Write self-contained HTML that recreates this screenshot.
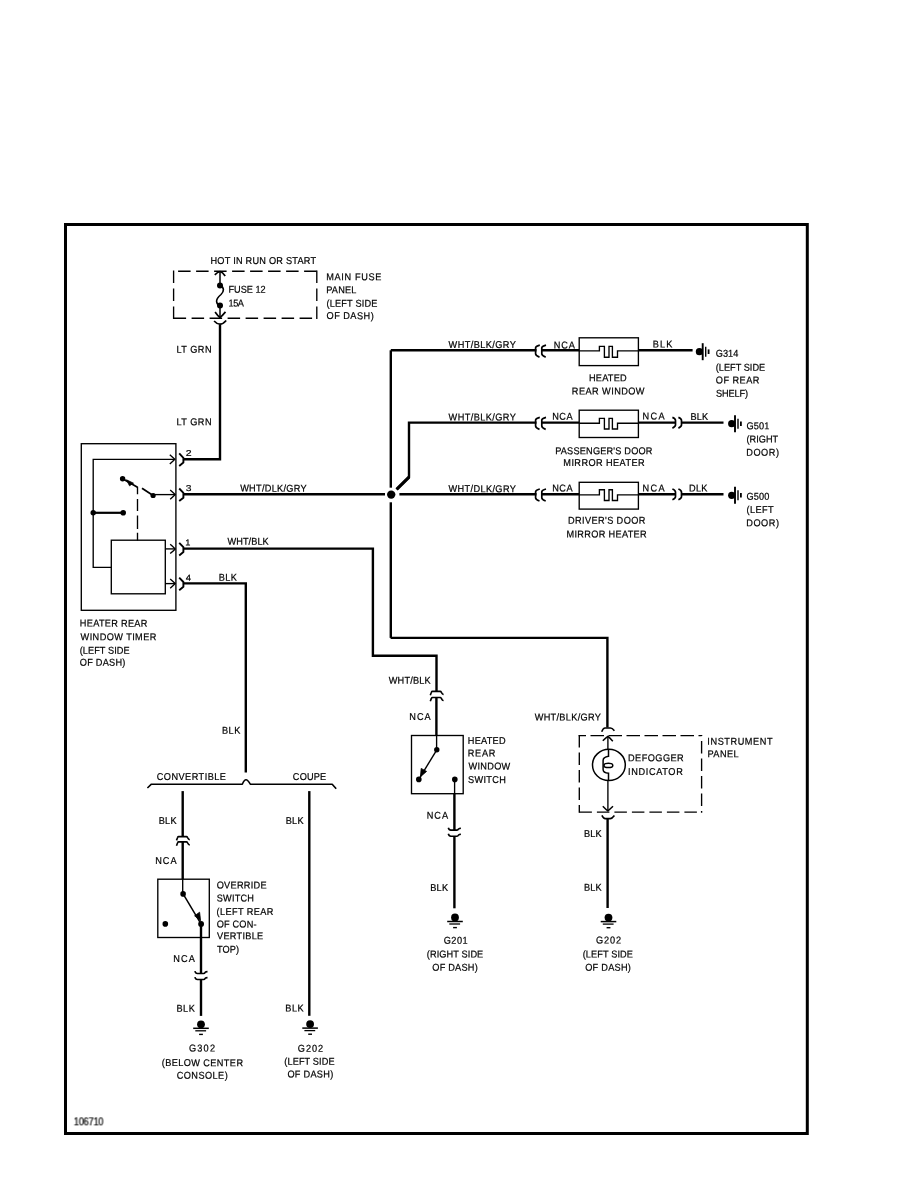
<!DOCTYPE html>
<html><head><meta charset="utf-8"><style>
html,body{margin:0;padding:0;background:#fff;}
body{width:918px;height:1188px;overflow:hidden;font-family:"Liberation Sans",sans-serif;}
svg{display:block;}
</style></head><body><svg width="918" height="1188" viewBox="0 0 918 1188"><g stroke="#000" stroke-linecap="butt" fill="none"><rect x="65.5" y="224.5" width="741.8" height="909.0" stroke-width="3.0" fill="none" /><line x1="173.6" y1="271.2" x2="316.8" y2="271.2" stroke-width="1.35" stroke-dasharray="12.5 5.5" stroke-dashoffset="-4.5"/><line x1="173.6" y1="318.2" x2="316.8" y2="318.2" stroke-width="1.35" stroke-dasharray="12.5 5.5"/><line x1="173.6" y1="270.5" x2="173.6" y2="318.9" stroke-width="1.35" stroke-dasharray="12.5 5.5"/><line x1="316.8" y1="270.5" x2="316.8" y2="318.9" stroke-width="1.35" stroke-dasharray="12.5 5.5"/><path d="M214.8,274.8 Q217.5,272 220.0,271.5 Q222.5,272.2 225.2,275.9" stroke-width="1.7" fill="none" /><line x1="220.0" y1="271.5" x2="220.0" y2="285" stroke-width="1.5" /><circle cx="220.0" cy="285.4" r="3.0" fill="#000" stroke="none"/><path d="M220.0,285.4 C224.5,287 224.2,291.5 221,294.5 C218,297 216.3,298.5 216.6,301.5 C216.8,304 218.5,305.3 220.0,305.6" stroke-width="1.6" fill="none" /><circle cx="220.0" cy="305.6" r="3.0" fill="#000" stroke="none"/><line x1="220.0" y1="306" x2="220.0" y2="317.5" stroke-width="1.5" /><path d="M215.1,311.9 Q218,316 220.0,317.7 Q222,316 225.5,311.9" stroke-width="1.7" fill="none" /><path d="M214.1,321 Q217,324.2 220.0,324.2 Q223,324.2 226.2,320.5" stroke-width="1.7" fill="none" /><path d="M220.0,324.6 V459.2 H183.5" stroke-width="2.4" fill="none" /><rect x="81.3" y="443.7" width="94.6" height="166.6" stroke-width="1.35" fill="none" /><path d="M174.6,459.3 H93.2 V567.3 H111.3" stroke-width="1.35" fill="none" /><path d="M169.8,454.7 Q173.3,457.8 174.8,459.3 Q173.3,460.8 169.8,463.90000000000003" stroke-width="1.35" fill="none" /><circle cx="93.2" cy="512.8" r="2.7" fill="#000" stroke="none"/><line x1="93.2" y1="512.8" x2="123.2" y2="512.8" stroke-width="2.2" /><circle cx="123.2" cy="512.8" r="2.8" fill="#000" stroke="none"/><circle cx="122.6" cy="478.8" r="2.7" fill="#000" stroke="none"/><line x1="122.6" y1="478.8" x2="137.5" y2="487.2" stroke-width="1.8" /><line x1="142" y1="488.3" x2="153.1" y2="495.5" stroke-width="1.8" /><path d="M126.5,479.8 L133.5,483.2 L129.5,485.8 Z" stroke-width="0.8" fill="#000" /><circle cx="153.1" cy="495.5" r="2.6" fill="#000" stroke="none"/><line x1="153.1" y1="494.6" x2="175" y2="494.6" stroke-width="1.35" /><path d="M170.2,490.0 Q173.7,493.1 175.2,494.6 Q173.7,496.1 170.2,499.20000000000005" stroke-width="1.35" fill="none" /><path d="M137.5,486.8 V494.2 M137.5,498.9 V510.9 M137.5,515.6 V529 M137.5,532.8 V540.4" stroke-width="1.35" fill="none" /><rect x="111.3" y="540.2" width="54.0" height="53.6" stroke-width="1.35" fill="none" /><line x1="165.3" y1="548.9" x2="175" y2="548.9" stroke-width="1.35" /><path d="M170.2,544.3 Q173.7,547.4 175.2,548.9 Q173.7,550.4 170.2,553.5" stroke-width="1.35" fill="none" /><line x1="165.3" y1="583.6" x2="175" y2="583.6" stroke-width="1.35" /><path d="M170.2,579.0 Q173.7,582.1 175.2,583.6 Q173.7,585.1 170.2,588.2" stroke-width="1.35" fill="none" /><path d="M179.2,453.4 L183.39999999999998,457.8 V462.59999999999997 L179.2,466.0" stroke-width="1.9" fill="none" stroke-linejoin="round"/><path d="M179.2,488.5 L183.39999999999998,492.90000000000003 V497.7 L179.2,501.1" stroke-width="1.9" fill="none" stroke-linejoin="round"/><path d="M179.2,542.8000000000001 L183.39999999999998,547.2 V552.0 L179.2,555.4" stroke-width="1.9" fill="none" stroke-linejoin="round"/><path d="M179.2,577.6 L183.39999999999998,582.0 V586.8 L179.2,590.1999999999999" stroke-width="1.9" fill="none" stroke-linejoin="round"/><path d="M183.5,494.3 H385" stroke-width="2.4" fill="none" /><path d="M183.5,548.6 H372.9 V655.8 H436.5 V691.4" stroke-width="2.4" fill="none" /><path d="M183.5,583.4 H245.8 V772.5" stroke-width="2.4" fill="none" /><line x1="390.8" y1="350.3" x2="390.8" y2="487.7" stroke-width="2.4" /><path d="M390.8,350.3 H536.5" stroke-width="2.4" fill="none" /><line x1="390.8" y1="502.3" x2="390.8" y2="637.9" stroke-width="2.4" /><path d="M390.6,637.9 H607.4 V727.5" stroke-width="2.4" fill="none" /><circle cx="391.2" cy="494.6" r="4.2" fill="#000" stroke="none"/><line x1="399.4" y1="494.2" x2="536.5" y2="494.2" stroke-width="2.4" /><path d="M536.5,422.6 H409 V477.2 L396.6,489.4" stroke-width="2.4" fill="none" /><line x1="409" y1="477.2" x2="396.6" y2="489.4" stroke-width="3.2"/><path d="M539.8000000000001,345.1 Q535.6,346.1 535.6,347.8 V353.8 Q535.6,355.8 539.5,357.1" stroke-width="1.7" fill="none" /><path d="M546.0000000000001,345.1 Q541.8000000000001,346.1 541.8000000000001,347.8 V353.8 Q541.8000000000001,355.8 545.7,357.1" stroke-width="1.7" fill="none" /><line x1="541.5" y1="350.3" x2="579.2" y2="350.3" stroke-width="2.4" /><rect x="579.2" y="337.8" width="59.2" height="27.8" stroke-width="1.35" fill="none" /><path d="M579.2,350.90000000000003 H599.4 V346.3 H604.4 V357.2 H609 V346.3 H612.4 V357.2 H617.5 V350.90000000000003 H638.4" stroke-width="1.35" fill="none" /><line x1="638.4" y1="350.3" x2="692.6" y2="350.3" stroke-width="2.4" /><path d="M539.8000000000001,417.40000000000003 Q535.6,418.40000000000003 535.6,420.1 V426.1 Q535.6,428.1 539.5,429.40000000000003" stroke-width="1.7" fill="none" /><path d="M546.0000000000001,417.40000000000003 Q541.8000000000001,418.40000000000003 541.8000000000001,420.1 V426.1 Q541.8000000000001,428.1 545.7,429.40000000000003" stroke-width="1.7" fill="none" /><line x1="541.5" y1="422.6" x2="579.2" y2="422.6" stroke-width="2.4" /><rect x="579.2" y="410.2" width="59.2" height="27.3" stroke-width="1.35" fill="none" /><path d="M579.2,423.20000000000005 H599.4 V418.4 H604.4 V429.0 H609 V418.4 H612.4 V429.0 H617.5 V423.20000000000005 H638.4" stroke-width="1.35" fill="none" /><line x1="638.4" y1="422.6" x2="675.5" y2="422.6" stroke-width="2.4" /><path d="M672.4,417.40000000000003 Q675.5,418.6 675.5,420.6 V425.1 Q675.5,426.8 672.4,428.1" stroke-width="1.7" fill="none" /><path d="M678.4,417.40000000000003 Q681.5,418.6 681.5,420.6 V425.1 Q681.5,426.8 678.4,428.1" stroke-width="1.7" fill="none" /><line x1="681.4" y1="422.6" x2="723.5" y2="422.6" stroke-width="2.4" /><path d="M539.8000000000001,489.0 Q535.6,490.0 535.6,491.7 V497.7 Q535.6,499.7 539.5,501.0" stroke-width="1.7" fill="none" /><path d="M546.0000000000001,489.0 Q541.8000000000001,490.0 541.8000000000001,491.7 V497.7 Q541.8000000000001,499.7 545.7,501.0" stroke-width="1.7" fill="none" /><line x1="541.5" y1="494.2" x2="579.2" y2="494.2" stroke-width="2.4" /><rect x="579.2" y="482.3" width="59.2" height="26.8" stroke-width="1.35" fill="none" /><path d="M579.2,494.8 H599.4 V489.7 H604.4 V500.5 H609 V489.7 H612.4 V500.5 H617.5 V494.8 H638.4" stroke-width="1.35" fill="none" /><line x1="638.4" y1="494.2" x2="675.5" y2="494.2" stroke-width="2.4" /><path d="M672.4,489.0 Q675.5,490.2 675.5,492.2 V496.7 Q675.5,498.4 672.4,499.7" stroke-width="1.7" fill="none" /><path d="M678.4,489.0 Q681.5,490.2 681.5,492.2 V496.7 Q681.5,498.4 678.4,499.7" stroke-width="1.7" fill="none" /><line x1="681.4" y1="494.2" x2="723.5" y2="494.2" stroke-width="2.4" /><circle cx="699.4000000000001" cy="351.7" r="3.6" fill="#000" stroke="none"/><line x1="702.7" y1="343.2" x2="702.7" y2="360.2" stroke-width="1.9" /><line x1="705.7" y1="346.7" x2="705.7" y2="356.7" stroke-width="1.4" /><line x1="708.6" y1="349.4" x2="708.6" y2="354.0" stroke-width="1.8" /><circle cx="731.7" cy="423.7" r="3.6" fill="#000" stroke="none"/><line x1="735.0" y1="415.2" x2="735.0" y2="432.2" stroke-width="1.9" /><line x1="738.0" y1="418.7" x2="738.0" y2="428.7" stroke-width="1.4" /><line x1="740.9" y1="421.4" x2="740.9" y2="426.0" stroke-width="1.8" /><circle cx="731.7" cy="495.3" r="3.6" fill="#000" stroke="none"/><line x1="735.0" y1="486.8" x2="735.0" y2="503.8" stroke-width="1.9" /><line x1="738.0" y1="490.3" x2="738.0" y2="500.3" stroke-width="1.4" /><line x1="740.9" y1="493.0" x2="740.9" y2="497.6" stroke-width="1.8" /><line x1="578.7" y1="735.6" x2="701.6" y2="735.6" stroke-width="1.35" stroke-dasharray="13.5 4.5" stroke-dashoffset="6.2"/><line x1="579.4" y1="812.1" x2="701.6" y2="812.1" stroke-width="1.35" stroke-dasharray="12.5 5"/><line x1="579.3" y1="735" x2="579.3" y2="812.8" stroke-width="1.35" stroke-dasharray="12.5 5"/><line x1="701.6" y1="735" x2="701.6" y2="812.8" stroke-width="1.35" stroke-dasharray="12.5 5" stroke-dashoffset="-6"/><path d="M601.7,731.8 Q603.2,728 605,728 H610.4 Q612.2,728 614.4,730.8" stroke-width="1.6" fill="none" /><path d="M602.8,740.8 Q606,737.5 607.9,736.3 Q609.5,737.5 612.8,741.2" stroke-width="1.5" fill="none" /><line x1="607.9" y1="736.5" x2="607.9" y2="749" stroke-width="1.35" /><ellipse cx="608.9" cy="764.9" rx="16.4" ry="15.6" fill="none" stroke-width="1.5"/><path d="M608.5,749.5 V756.3 C605,756.8 603.1,758 603.1,760.5 V769.5 C603.1,771.5 605,773 608.5,773.3 V780.5" stroke-width="1.5" fill="none" /><ellipse cx="608.4" cy="765.4" rx="4.4" ry="2.2" fill="none" stroke-width="1.5"/><line x1="607.9" y1="780.5" x2="607.9" y2="811" stroke-width="1.35" /><path d="M602.8,806.2 Q606,809.5 607.9,810.9 Q609.5,809.5 613,806.2" stroke-width="1.5" fill="none" /><path d="M601.9,815.4 Q603.4,818.6 605.2,818.6 H610.2 Q612,818.6 614.4,815.4" stroke-width="1.6" fill="none" /><line x1="607.6" y1="818.8" x2="607.6" y2="908" stroke-width="2.4" /><path d="M430.29999999999995,695.1999999999999 L431.4,692.3 Q431.7,691.4 432.5,691.4 H440.2 Q440.9,691.4 441.4,692.4 L442.2,693.6999999999999 Q442.59999999999997,694.4 443.59999999999997,694.4" stroke-width="1.6" fill="none" /><path d="M430.29999999999995,701.3 L431.4,698.4 Q431.7,697.5 432.5,697.5 H440.2 Q440.9,697.5 441.4,698.5 L442.2,699.8 Q442.59999999999997,700.5 443.59999999999997,700.5" stroke-width="1.6" fill="none" /><line x1="436.4" y1="697.5" x2="436.4" y2="736" stroke-width="2.4" /><rect x="411.5" y="735.5" width="51.7" height="58.2" stroke-width="1.35" fill="none" /><line x1="436.6" y1="735.5" x2="436.6" y2="749.8" stroke-width="1.35" /><circle cx="436.8" cy="749.8" r="2.7" fill="#000" stroke="none"/><line x1="436.8" y1="749.8" x2="418.8" y2="779.4" stroke-width="1.4" /><path d="M421.2,768.4 L426.6,771.4 L420.4,776.8 Z" stroke-width="0.8" fill="#000" /><circle cx="418.8" cy="779.4" r="2.8" fill="#000" stroke="none"/><circle cx="454.8" cy="779.4" r="2.8" fill="#000" stroke="none"/><line x1="454.6" y1="779.4" x2="454.6" y2="793.7" stroke-width="1.35" /><line x1="454.4" y1="793.7" x2="454.4" y2="830.1" stroke-width="2.4" /><path d="M448.29999999999995,827.7 Q448.9,830.1 450.79999999999995,830.1 H457.0 Q458.0,830.1 458.59999999999997,828.9 Q459.2,828.2 460.9,828.2" stroke-width="1.6" fill="none" /><path d="M448.29999999999995,833.8000000000001 Q448.9,836.2 450.79999999999995,836.2 H457.0 Q458.0,836.2 458.59999999999997,835.0 Q459.2,834.3000000000001 460.9,834.3000000000001" stroke-width="1.6" fill="none" /><line x1="454.4" y1="836.2" x2="454.4" y2="908.3" stroke-width="2.4" /><circle cx="455.0" cy="917.5" r="3.9" fill="#000" stroke="none"/><line x1="447.2" y1="921.5" x2="462.8" y2="921.5" stroke-width="1.5" /><line x1="449.3" y1="924.0" x2="460.1" y2="924.0" stroke-width="1.3" /><line x1="453.1" y1="927.6" x2="456.9" y2="927.6" stroke-width="1.4" /><circle cx="608.5" cy="917.6" r="3.9" fill="#000" stroke="none"/><line x1="600.7" y1="921.6" x2="616.3" y2="921.6" stroke-width="1.5" /><line x1="602.8" y1="924.1" x2="613.6" y2="924.1" stroke-width="1.3" /><line x1="606.6" y1="927.7" x2="610.4" y2="927.7" stroke-width="1.4" /><circle cx="201.0" cy="1024.3" r="3.9" fill="#000" stroke="none"/><line x1="193.2" y1="1028.3" x2="208.8" y2="1028.3" stroke-width="1.5" /><line x1="195.3" y1="1030.8" x2="206.1" y2="1030.8" stroke-width="1.3" /><line x1="199.1" y1="1034.3999999999999" x2="202.9" y2="1034.3999999999999" stroke-width="1.4" /><circle cx="310.1" cy="1024.1" r="3.9" fill="#000" stroke="none"/><line x1="302.3" y1="1028.1" x2="317.90000000000003" y2="1028.1" stroke-width="1.5" /><line x1="304.40000000000003" y1="1030.6" x2="315.20000000000005" y2="1030.6" stroke-width="1.3" /><line x1="308.20000000000005" y1="1034.1999999999998" x2="312.0" y2="1034.1999999999998" stroke-width="1.4" /><path d="M147.4,788 L151.4,784.2 H242.3 Q244.2,779.8 246,779.8 Q247.8,779.8 250.3,784.2 H332.2 L336.2,788.8" stroke-width="1.6" fill="none" stroke-linejoin="round"/><line x1="182.7" y1="791.1" x2="182.7" y2="836.5" stroke-width="2.4" /><path d="M176.5,840.4 L177.6,837.5 Q177.9,836.6 178.7,836.6 H186.4 Q187.1,836.6 187.6,837.6 L188.4,838.9 Q188.79999999999998,839.6 189.79999999999998,839.6" stroke-width="1.6" fill="none" /><path d="M176.5,845.6999999999999 L177.6,842.8 Q177.9,841.9 178.7,841.9 H186.4 Q187.1,841.9 187.6,842.9 L188.4,844.1999999999999 Q188.79999999999998,844.9 189.79999999999998,844.9" stroke-width="1.6" fill="none" /><line x1="182.7" y1="841.9" x2="182.7" y2="879.2" stroke-width="2.4" /><line x1="309.3" y1="791.1" x2="309.3" y2="1015.8" stroke-width="2.4" /><rect x="157.8" y="879.2" width="51.5" height="58.3" stroke-width="1.35" fill="none" /><line x1="182.7" y1="879.2" x2="182.7" y2="893" stroke-width="1.35" /><circle cx="183.1" cy="893.9" r="2.8" fill="#000" stroke="none"/><line x1="183.1" y1="893.9" x2="201" y2="923.9" stroke-width="1.5" /><path d="M199.6,912.2 L200.6,920.8 L194.6,915.8 Z" stroke-width="0.8" fill="#000" /><circle cx="201.1" cy="923.9" r="2.9" fill="#000" stroke="none"/><circle cx="165.3" cy="923.9" r="2.8" fill="#000" stroke="none"/><line x1="201" y1="924" x2="201" y2="973.5" stroke-width="2.4" /><path d="M194.9,971.1 Q195.5,973.5 197.4,973.5 H203.6 Q204.6,973.5 205.2,972.3 Q205.8,971.6 207.5,971.6" stroke-width="1.6" fill="none" /><path d="M194.9,977.1 Q195.5,979.5 197.4,979.5 H203.6 Q204.6,979.5 205.2,978.3 Q205.8,977.6 207.5,977.6" stroke-width="1.6" fill="none" /><line x1="201" y1="979.5" x2="201" y2="1015.9" stroke-width="2.4" /></g><g fill="#000" stroke="#000" stroke-width="0.88" font-family="Liberation Sans, sans-serif" style="will-change:transform"><text transform="translate(210.45,264.0) scale(0.23,0.25) rotate(0.05)" font-size="40" letter-spacing="0.999">HOT IN RUN OR START</text><text transform="translate(228.45,292.8) scale(0.23,0.25) rotate(0.05)" font-size="40" letter-spacing="-0.006">FUSE 12</text><text transform="translate(228.5,306.5) scale(0.23,0.25) rotate(0.05)" font-size="40" letter-spacing="-2.067">15A</text><text transform="translate(326.25,280.2) scale(0.23,0.25) rotate(0.05)" font-size="40" letter-spacing="2.749">MAIN FUSE</text><text transform="translate(326.25,293.2) scale(0.23,0.25) rotate(0.05)" font-size="40" letter-spacing="0.751">PANEL</text><text transform="translate(326.43,306.8) scale(0.23,0.25) rotate(0.05)" font-size="40" letter-spacing="0.812">(LEFT SIDE</text><text transform="translate(326.56,319.1) scale(0.23,0.25) rotate(0.05)" font-size="40" letter-spacing="2.019">OF DASH)</text><text transform="translate(176.45,352.7) scale(0.23,0.25) rotate(0.05)" font-size="40" letter-spacing="1.973">LT GRN</text><text transform="translate(176.45,425.3) scale(0.23,0.25) rotate(0.05)" font-size="40" letter-spacing="1.973">LT GRN</text><text transform="translate(185.67,456.1) scale(0.26341,0.215) rotate(0.05)" font-size="40" letter-spacing="0.0">2</text><text transform="translate(185.71,491.0) scale(0.25837,0.215) rotate(0.05)" font-size="40" letter-spacing="0.0">3</text><text transform="translate(185.29,545.4) scale(0.23194,0.215) rotate(0.05)" font-size="40" letter-spacing="0.0">1</text><text transform="translate(185.78,580.8) scale(0.23814,0.215) rotate(0.05)" font-size="40" letter-spacing="0.0">4</text><text transform="translate(240.16,491.6) scale(0.23,0.25) rotate(0.05)" font-size="40" letter-spacing="1.196">WHT/DLK/GRY</text><text transform="translate(227.46,544.7) scale(0.23,0.25) rotate(0.05)" font-size="40" letter-spacing="0.327">WHT/BLK</text><text transform="translate(218.75,580.8) scale(0.23,0.25) rotate(0.05)" font-size="40" letter-spacing="1.671">BLK</text><text transform="translate(79.85,626.6) scale(0.23,0.25) rotate(0.05)" font-size="40" letter-spacing="1.238">HEATER REAR</text><text transform="translate(80.56,640.3) scale(0.23,0.25) rotate(0.05)" font-size="40" letter-spacing="1.788">WINDOW TIMER</text><text transform="translate(79.73,653.7) scale(0.23,0.25) rotate(0.05)" font-size="40" letter-spacing="0.232">(LEFT SIDE</text><text transform="translate(79.86,665.8) scale(0.23,0.25) rotate(0.05)" font-size="40" letter-spacing="0.963">OF DASH)</text><text transform="translate(448.56,348.0) scale(0.23,0.25) rotate(0.05)" font-size="40" letter-spacing="1.808">WHT/BLK/GRY</text><text transform="translate(448.56,420.5) scale(0.23,0.25) rotate(0.05)" font-size="40" letter-spacing="1.808">WHT/BLK/GRY</text><text transform="translate(448.56,492.1) scale(0.23,0.25) rotate(0.05)" font-size="40" letter-spacing="1.587">WHT/DLK/GRY</text><text transform="translate(553.65,348.4) scale(0.23,0.25) rotate(0.05)" font-size="40" letter-spacing="4.236">NCA</text><text transform="translate(652.75,347.6) scale(0.23,0.25) rotate(0.05)" font-size="40" letter-spacing="5.149">BLK</text><text transform="translate(715.84,356.8) scale(0.23,0.25) rotate(0.05)" font-size="40" letter-spacing="-0.107">G314</text><text transform="translate(715.73,370.8) scale(0.23,0.25) rotate(0.05)" font-size="40" letter-spacing="0.039">(LEFT SIDE</text><text transform="translate(715.86,383.5) scale(0.23,0.25) rotate(0.05)" font-size="40" letter-spacing="1.935">OF REAR</text><text transform="translate(715.88,396.8) scale(0.23,0.25) rotate(0.05)" font-size="40" letter-spacing="-0.372">SHELF)</text><text transform="translate(588.95,381.2) scale(0.23,0.25) rotate(0.05)" font-size="40" letter-spacing="1.025">HEATED</text><text transform="translate(571.85,394.5) scale(0.23,0.25) rotate(0.05)" font-size="40" letter-spacing="1.871">REAR WINDOW</text><text transform="translate(552.15,419.8) scale(0.23,0.25) rotate(0.05)" font-size="40" letter-spacing="2.279">NCA</text><text transform="translate(642.45,419.6) scale(0.23,0.25) rotate(0.05)" font-size="40" letter-spacing="6.192">NCA</text><text transform="translate(690.45,420.1) scale(0.23,0.25) rotate(0.05)" font-size="40" letter-spacing="0.584">BLK</text><text transform="translate(746.54,429.2) scale(0.23,0.25) rotate(0.05)" font-size="40" letter-spacing="0.588">G501</text><text transform="translate(746.43,442.4) scale(0.23,0.25) rotate(0.05)" font-size="40" letter-spacing="0.085">(RIGHT</text><text transform="translate(746.25,455.7) scale(0.23,0.25) rotate(0.05)" font-size="40" letter-spacing="2.349">DOOR)</text><text transform="translate(555.15,454.2) scale(0.23,0.25) rotate(0.05)" font-size="40" letter-spacing="0.832">PASSENGER&#x27;S DOOR</text><text transform="translate(563.35,466.0) scale(0.23,0.25) rotate(0.05)" font-size="40" letter-spacing="1.776">MIRROR HEATER</text><text transform="translate(552.15,491.6) scale(0.23,0.25) rotate(0.05)" font-size="40" letter-spacing="2.279">NCA</text><text transform="translate(642.45,491.6) scale(0.23,0.25) rotate(0.05)" font-size="40" letter-spacing="6.192">NCA</text><text transform="translate(688.95,491.6) scale(0.23,0.25) rotate(0.05)" font-size="40" letter-spacing="1.437">DLK</text><text transform="translate(746.54,499.8) scale(0.23,0.25) rotate(0.05)" font-size="40" letter-spacing="0.458">G500</text><text transform="translate(746.43,513.0) scale(0.23,0.25) rotate(0.05)" font-size="40" letter-spacing="1.876">(LEFT</text><text transform="translate(746.25,526.3) scale(0.23,0.25) rotate(0.05)" font-size="40" letter-spacing="2.349">DOOR)</text><text transform="translate(568.05,523.8) scale(0.23,0.25) rotate(0.05)" font-size="40" letter-spacing="1.657">DRIVER&#x27;S DOOR</text><text transform="translate(566.55,537.5) scale(0.23,0.25) rotate(0.05)" font-size="40" letter-spacing="1.341">MIRROR HEATER</text><text transform="translate(388.76,683.7) scale(0.23,0.25) rotate(0.05)" font-size="40" letter-spacing="0.834">WHT/BLK</text><text transform="translate(409.25,720.0) scale(0.23,0.25) rotate(0.05)" font-size="40" letter-spacing="4.453">NCA</text><text transform="translate(467.75,744.0) scale(0.23,0.25) rotate(0.05)" font-size="40" letter-spacing="1.112">HEATED</text><text transform="translate(467.75,756.6) scale(0.23,0.25) rotate(0.05)" font-size="40" letter-spacing="3.219">REAR</text><text transform="translate(468.46,769.6) scale(0.23,0.25) rotate(0.05)" font-size="40" letter-spacing="1.309">WINDOW</text><text transform="translate(468.08,783.1) scale(0.23,0.25) rotate(0.05)" font-size="40" letter-spacing="1.291">SWITCH</text><text transform="translate(426.65,818.7) scale(0.23,0.25) rotate(0.05)" font-size="40" letter-spacing="4.453">NCA</text><text transform="translate(430.15,891.1) scale(0.23,0.25) rotate(0.05)" font-size="40" letter-spacing="1.454">BLK</text><text transform="translate(443.74,943.8) scale(0.23,0.25) rotate(0.05)" font-size="40" letter-spacing="2.038">G201</text><text transform="translate(426.83,957.4) scale(0.23,0.25) rotate(0.05)" font-size="40" letter-spacing="0.415">(RIGHT SIDE</text><text transform="translate(432.26,970.7) scale(0.23,0.25) rotate(0.05)" font-size="40" letter-spacing="0.963">OF DASH)</text><text transform="translate(534.66,720.4) scale(0.23,0.25) rotate(0.05)" font-size="40" letter-spacing="1.329">WHT/BLK/GRY</text><text transform="translate(628.05,761.3) scale(0.23,0.25) rotate(0.05)" font-size="40" letter-spacing="1.884">DEFOGGER</text><text transform="translate(627.95,774.9) scale(0.23,0.25) rotate(0.05)" font-size="40" letter-spacing="2.813">INDICATOR</text><text transform="translate(707.35,744.8) scale(0.23,0.25) rotate(0.05)" font-size="40" letter-spacing="2.393">INSTRUMENT</text><text transform="translate(707.45,757.2) scale(0.23,0.25) rotate(0.05)" font-size="40" letter-spacing="1.946">PANEL</text><text transform="translate(584.05,836.9) scale(0.23,0.25) rotate(0.05)" font-size="40" letter-spacing="0.584">BLK</text><text transform="translate(584.05,890.7) scale(0.23,0.25) rotate(0.05)" font-size="40" letter-spacing="0.584">BLK</text><text transform="translate(596.04,943.5) scale(0.23,0.25) rotate(0.05)" font-size="40" letter-spacing="3.941">G202</text><text transform="translate(582.63,957.4) scale(0.23,0.25) rotate(0.05)" font-size="40" letter-spacing="0.474">(LEFT SIDE</text><text transform="translate(585.16,970.7) scale(0.23,0.25) rotate(0.05)" font-size="40" letter-spacing="1.149">OF DASH)</text><text transform="translate(222.05,733.7) scale(0.23,0.25) rotate(0.05)" font-size="40" letter-spacing="1.889">BLK</text><text transform="translate(156.73,779.9) scale(0.23,0.25) rotate(0.05)" font-size="40" letter-spacing="1.973">CONVERTIBLE</text><text transform="translate(292.83,779.9) scale(0.23,0.25) rotate(0.05)" font-size="40" letter-spacing="0.702">COUPE</text><text transform="translate(158.65,824.0) scale(0.23,0.25) rotate(0.05)" font-size="40" letter-spacing="1.454">BLK</text><text transform="translate(285.65,824.0) scale(0.23,0.25) rotate(0.05)" font-size="40" letter-spacing="1.454">BLK</text><text transform="translate(155.25,864.1) scale(0.23,0.25) rotate(0.05)" font-size="40" letter-spacing="4.236">NCA</text><text transform="translate(216.66,888.5) scale(0.23,0.25) rotate(0.05)" font-size="40" letter-spacing="1.229">OVERRIDE</text><text transform="translate(216.68,901.4) scale(0.23,0.25) rotate(0.05)" font-size="40" letter-spacing="0.943">SWITCH</text><text transform="translate(216.53,915.0) scale(0.23,0.25) rotate(0.05)" font-size="40" letter-spacing="1.606">(LEFT REAR</text><text transform="translate(216.66,927.6) scale(0.23,0.25) rotate(0.05)" font-size="40" letter-spacing="0.801">OF CON-</text><text transform="translate(217.06,939.2) scale(0.23,0.25) rotate(0.05)" font-size="40" letter-spacing="1.152">VERTIBLE</text><text transform="translate(216.89,952.8) scale(0.23,0.25) rotate(0.05)" font-size="40" letter-spacing="0.727">TOP)</text><text transform="translate(173.15,961.9) scale(0.23,0.25) rotate(0.05)" font-size="40" letter-spacing="4.888">NCA</text><text transform="translate(176.45,1011.8) scale(0.23,0.25) rotate(0.05)" font-size="40" letter-spacing="2.323">BLK</text><text transform="translate(188.94,1051.6) scale(0.23,0.25) rotate(0.05)" font-size="40" letter-spacing="5.246">G302</text><text transform="translate(161.73,1066.1) scale(0.23,0.25) rotate(0.05)" font-size="40" letter-spacing="1.712">(BELOW CENTER</text><text transform="translate(176.73,1078.7) scale(0.23,0.25) rotate(0.05)" font-size="40" letter-spacing="1.854">CONSOLE)</text><text transform="translate(285.35,1011.4) scale(0.23,0.25) rotate(0.05)" font-size="40" letter-spacing="2.106">BLK</text><text transform="translate(297.84,1051.7) scale(0.23,0.25) rotate(0.05)" font-size="40" letter-spacing="4.086">G202</text><text transform="translate(284.23,1064.8) scale(0.23,0.25) rotate(0.05)" font-size="40" letter-spacing="0.522">(LEFT SIDE</text><text transform="translate(287.46,1077.4) scale(0.23,0.25) rotate(0.05)" font-size="40" letter-spacing="1.149">OF DASH)</text><text transform="translate(73.8,1125.1) scale(0.23,0.25) rotate(0.05)" font-size="40" letter-spacing="-0.817">106710</text></g></svg></body></html>
